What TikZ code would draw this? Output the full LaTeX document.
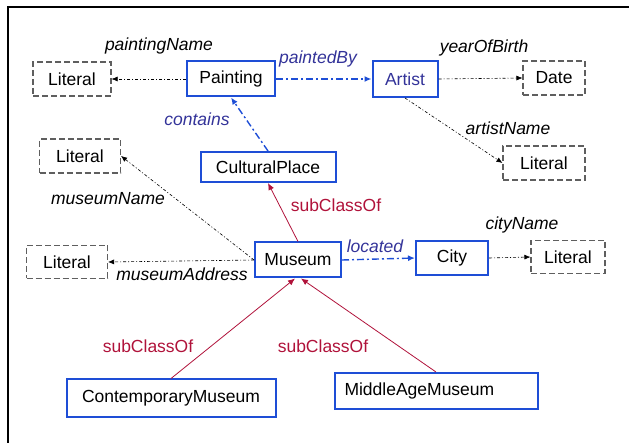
\documentclass[tikz,border=0pt]{standalone}
\usepackage{fontspec}
\setmainfont{Liberation Sans}
\usepackage{tikz}
\usetikzlibrary{arrows.meta,calc,positioning}
\definecolor{boxblue}{RGB}{30,78,214}
\definecolor{textblue}{RGB}{51,51,153}
\definecolor{subred}{RGB}{176,18,58}
\definecolor{litgray}{RGB}{95,95,95}
\tikzset{
  classbox/.style={draw=boxblue,line width=2pt,inner sep=0pt},
  litbox/.style={draw=litgray,dash pattern=on 6pt off 3pt,line width=1.1pt,inner sep=0pt},
  attr/.style={black,line width=0.6pt,dash pattern=on 3pt off 2pt on 1pt off 2pt,-{Latex[length=6pt,width=5pt]}},
  relation/.style={boxblue,line width=1.4pt,dash pattern=on 7pt off 3pt on 2pt off 3pt,-{Latex[length=7pt,width=6pt]}},
  subclass/.style={subred,line width=0.8pt,-{Latex[length=7pt,width=6pt]}},
  proplabel/.style={font=\fontsize{17.5}{21}\selectfont\itshape},
}
\begin{document}
\begin{tikzpicture}[x=1pt,y=-1pt,font=\fontsize{17.5}{21}\selectfont]
\useasboundingbox (0,0) rectangle (629,443);
% ==========================================
\draw [black,line width=2.5pt] (8,443) -- (8,7) -- (629,7);
%
\node[classbox,minimum width=88,minimum height=35] (painting) at (231,79) {Painting};
\node[classbox,minimum width=65,minimum height=36,text=textblue] (artist) at (405,79) {Artist};
\node[classbox,minimum width=135,minimum height=30] (cultural) at (268,167) {CulturalPlace};
\node[classbox,minimum width=86,minimum height=35] (museum) at (298,260) {Museum};
\node[classbox,minimum width=72,minimum height=34] (city) at (452,258) {City};
\node[classbox,minimum width=209,minimum height=37] (contemporary) at (171,398) {ContemporaryMuseum};
\node[classbox,minimum height=36,text width=183,inner xsep=10,align=left] (middleage) at (436,391) {MiddleAgeMuseum};
%
\node[litbox,minimum width=78,minimum height=34] (litpainting) at (72,79) {Literal};
\node[litbox,minimum width=62,minimum height=34] (date) at (554,78) {Date};
\node[litbox,minimum width=81,minimum height=34] (litmuseumname) at (80,156) {Literal};
\node[litbox,minimum width=82,minimum height=34] (litartist) at (544,163) {Literal};
\node[litbox,minimum width=81,minimum height=33] (litaddress) at (67,262) {Literal};
\node[litbox,minimum width=74,minimum height=33] (litcity) at (568,257) {Literal};
%
\draw [attr] (painting.west) -- (litpainting.east);%Arrow.
\draw [relation] (painting.east) -- (artist.west);%Arrow.
\draw [attr] (artist.east) -- (date.west);%Arrow.
\draw [attr] (artist.south) -- (litartist.west);%Arrow.
\draw [relation] (cultural.north) -- (painting.south);%Arrow.
\draw [subclass] (museum.north) -- (cultural.south);%Arrow.
\draw [attr] (museum.west) -- (litmuseumname.east);%Arrow.
\draw [attr] (museum.west) -- (litaddress.east);%Arrow.
\draw [relation] (museum.east) -- (city.west);%Arrow.
\draw [attr] (city.east) -- (litcity.west);%Arrow.
\draw [subclass] (contemporary.north) -- ([xshift=-3pt]museum.south);%Arrow.
\draw [subclass] (middleage.north) -- ([xshift=3pt]museum.south);%Arrow.
%
\node[proplabel] (paintingname) at (159,46) {paintingName};
\node[proplabel,text=textblue] (paintedby) at (318,59) {paintedBy};
\node[proplabel] (yearofbirth) at (484,48) {yearOfBirth};
\node[proplabel,text=textblue] (contains) at (197,119) {contains};
\node[proplabel] (artistname) at (508,128) {artistName};
\node[proplabel] (museumname) at (108,199) {museumName};
\node[text=subred] (subcultural) at (336,205) {subClassOf};
\node[proplabel] (museumaddress) at (182,274) {museumAddress};
\node[proplabel,text=textblue] (located) at (375,246) {located};
\node[proplabel] (cityname) at (522,225) {cityName};
\node[text=subred] (subcontemporary) at (148,346) {subClassOf};
\node[text=subred] (submiddleage) at (323,346) {subClassOf};
% =============================================
\end{tikzpicture}
\end{document}
